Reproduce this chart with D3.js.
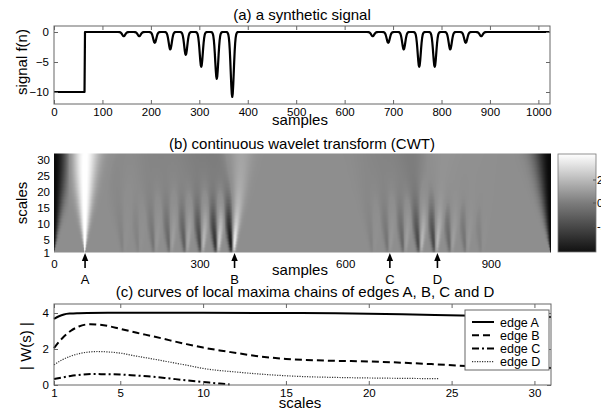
<!DOCTYPE html>
<html lang="en">
<head>
<meta charset="UTF-8">
<title>Synthetic signal, CWT and maxima chains</title>
<style>
  body { margin: 0; background: #fff; }
  svg { display: block; font-family: "Liberation Sans", Arial, sans-serif; }
</style>
</head>
<body>
<svg id="chart" width="601" height="418"></svg>
<script src="https://cdn.jsdelivr.net/npm/d3@7"></script>
<script>
// (a) synthetic signal: a step then two groups of gaussian dips
const nSamples = 1024;
const stepAt = 64;
const stepLevel = -10;
const dipWidth = 3.2; // std of a dip, in samples
const dipCenters = [144, 176, 208, 240, 272, 304, 336, 368, 658, 690, 722, 754, 786, 818, 850, 882];
const dipDepths = [0.7, 0.7, 1.8, 2.9, 3.8, 5.8, 7.8, 10.8, 0.7, 1.8, 2.9, 5.8, 5.8, 2.9, 1.8, 0.7];
const sampleTicks = [0, 100, 200, 300, 400, 500, 600, 700, 800, 900, 1000];
const signalTicks = [0, -5, -10];

// (b) CWT, edges marked under it
const maxScale = 32;
const waveletStd = 0.68; // samples per scale unit
const cwtXTicks = [0, 300, 600, 900];
const cwtYTicks = [1, 5, 10, 15, 20, 25, 30];
const colorTicks = [2, 0, -2];
const edgeNames = ["A", "B", "C", "D"];
const edgePos = [64, 372, 692, 790];

// (c) |W(s)| along the maxima chains
const scalesA = [1, 1.3, 1.6, 2, 2.5, 3, 5, 10, 15, 18, 22, 25.6, 28, 31];
const edgeA = [3.67, 3.82, 3.92, 3.97, 3.99, 4.0, 4.01, 4.01, 4.0, 3.98, 3.93, 3.86, 3.82, 3.78];
const scalesB = [1, 1.5, 2, 2.5, 3.2, 4, 5, 6, 7, 8, 9, 10, 11, 12, 13, 14, 15, 16, 18, 20, 22, 24, 26, 28, 31];
const edgeB = [2.05, 2.6, 3.0, 3.25, 3.38, 3.32, 3.12, 2.9, 2.7, 2.48, 2.27, 2.08, 1.92, 1.78, 1.64, 1.53, 1.45, 1.4, 1.34, 1.31, 1.24, 1.15, 1.05, 1.0, 0.95];
const scalesC = [1, 1.5, 2, 2.5, 3, 3.5, 4, 5, 6, 7, 8, 9, 10, 11, 11.6];
const edgeC = [0.33, 0.42, 0.5, 0.56, 0.6, 0.61, 0.6, 0.58, 0.52, 0.46, 0.36, 0.26, 0.17, 0.08, 0.03];
const scalesD = [1, 1.5, 2, 2.5, 3, 3.6, 4, 5, 6, 7, 8, 9, 10, 12, 14, 16, 18, 20, 22, 24.2];
const edgeD = [1.12, 1.4, 1.6, 1.74, 1.82, 1.86, 1.85, 1.77, 1.6, 1.44, 1.27, 1.1, 0.92, 0.72, 0.57, 0.47, 0.42, 0.39, 0.37, 0.35];
const scaleTicks = [1, 5, 10, 15, 20, 25, 30];
const wTicks = [0, 2, 4];

const svg = d3.select("#chart");
const boxColor = "#666";
const tickFont = 11.5;

function signalAt(n) {
    let v = n < stepAt ? stepLevel : 0;
    dipCenters.forEach((c, i) => {
        v -= dipDepths[i] * Math.exp(-(n - c) * (n - c) / (2 * dipWidth * dipWidth));
    });
    return v;
}

// wavelet transform (derivative of gaussian), periodic signal
function cwtAt(n, s) {
    const w = waveletStd * s;
    let v = 0;
    for (const k of [-1, 0, 1]) {
        const off = k * nSamples;
        const x1 = n - (stepAt - 0.5) - off;
        const x2 = n - (-0.5) - off;
        v += -stepLevel * Math.exp(-x1 * x1 / (2 * w * w)) / Math.sqrt(2 * Math.PI);
        v += stepLevel * Math.exp(-x2 * x2 / (2 * w * w)) / Math.sqrt(2 * Math.PI);
    }
    dipCenters.forEach((c, i) => {
        const x = n - c;
        const V = dipWidth * dipWidth + w * w;
        v += w * dipDepths[i] * dipWidth * x / Math.pow(V, 1.5) * Math.exp(-x * x / (2 * V));
    });
    return v;
}

function boxAxes(g, x, y, xt, yt) {
    const [x0, x1] = x.range();
    const [y1, y0] = y.range();
    g.append("g").attr("transform", `translate(0,${y1})`)
        .call(d3.axisBottom(x).tickValues(xt).tickFormat(d3.format("d"))
            .tickSizeInner(-4).tickSizeOuter(0).tickPadding(4));
    g.append("g").attr("transform", `translate(0,${y0})`)
        .call(d3.axisTop(x).tickValues(xt).tickSizeInner(-4).tickSizeOuter(0).tickFormat(""));
    g.append("g").attr("transform", `translate(${x0},0)`)
        .call(d3.axisLeft(y).tickValues(yt).tickFormat(d3.format("d"))
            .tickSizeInner(-4).tickSizeOuter(0).tickPadding(5));
    g.append("g").attr("transform", `translate(${x1},0)`)
        .call(d3.axisRight(y).tickValues(yt).tickSizeInner(-4).tickSizeOuter(0).tickFormat(""));
    g.selectAll(".domain").remove();
    g.selectAll(".tick line").attr("stroke", boxColor);
    g.selectAll(".tick text").attr("font-size", tickFont).attr("fill", "#000");
    g.append("rect").attr("x", x0).attr("y", y0).attr("width", x1 - x0).attr("height", y1 - y0)
        .attr("fill", "none").attr("stroke", boxColor).attr("stroke-width", 1);
}

function label(text, x, y, size, rotate) {
    const t = svg.append("text").attr("text-anchor", "middle").attr("font-size", size).text(text);
    if (rotate) t.attr("transform", `translate(${x},${y}) rotate(-90)`);
    else t.attr("x", x).attr("y", y);
    return t;
}

// ---- (a) signal
const xa = d3.scaleLinear().domain([0, nSamples]).range([54, 550]);
const ya = d3.scaleLinear().domain([-12, 1]).range([104, 26]);
const ga = svg.append("g");
ga.append("path")
    .datum(d3.range(nSamples).map(n => [n, signalAt(n)]))
    .attr("fill", "none").attr("stroke", "#000").attr("stroke-width", 2.2)
    .attr("stroke-linejoin", "round")
    .attr("d", d3.line().x(d => xa(d[0])).y(d => ya(d[1])));
boxAxes(ga, xa, ya, sampleTicks, signalTicks);
label("(a) a synthetic signal", 302, 20, 15);
label("samples", 300, 125, 15);
label("signal f(n)", 27, 62, 15, true);

// ---- (b) CWT image
const xb = d3.scaleLinear().domain([0, nSamples]).range([54, 551]);
const yb = d3.scaleLinear().domain([1, maxScale]).range([252.5, 153.5]);
const mid = "#8e8e8e";
const lightAmount = d3.scalePow().exponent(1.3).domain([0, 3.9]).range([0, 1]).clamp(true);
const darkAmount = d3.scalePow().exponent(0.85).domain([0, 3.9]).range([0, 1]).clamp(true);
const toWhite = d3.interpolateRgb(mid, "#fff");
const toBlack = d3.interpolateRgb(mid, "#0a0a0a");
const gray = v => v >= 0 ? toWhite(lightAmount(v)) : toBlack(darkAmount(-v));

const cw = Math.round(xb(nSamples) - xb(0));
const ch = Math.round(yb(1) - yb(maxScale));
const canvas = document.createElement("canvas");
canvas.width = cw;
canvas.height = ch;
const ctx = canvas.getContext("2d");
const img = ctx.createImageData(cw, ch);
for (let py = 0; py < ch; py++) {
    const s = Math.max(1, Math.min(maxScale, Math.round(yb.invert(yb(maxScale) + py + 0.5))));
    for (let px = 0; px < cw; px++) {
        const n = xb.invert(xb(0) + px + 0.5);
        const c = d3.rgb(gray(cwtAt(n, s)));
        const k = (py * cw + px) * 4;
        img.data[k] = c.r; img.data[k + 1] = c.g; img.data[k + 2] = c.b; img.data[k + 3] = 255;
    }
}
ctx.putImageData(img, 0, 0);
const gb = svg.append("g");
gb.append("image")
    .attr("href", canvas.toDataURL())
    .attr("x", xb(0)).attr("y", yb(maxScale))
    .attr("width", cw).attr("height", ch)
    .attr("preserveAspectRatio", "none");

gb.append("g").attr("transform", `translate(0,${yb(1)})`)
    .call(d3.axisBottom(xb).tickValues(cwtXTicks).tickSize(0).tickPadding(7));
gb.append("g").attr("transform", `translate(${xb(0)},0)`)
    .call(d3.axisLeft(yb).tickValues(cwtYTicks).tickSize(0).tickPadding(4));
gb.selectAll(".domain").remove();
gb.selectAll(".tick text").attr("font-size", tickFont).attr("fill", "#000");

// edge arrows
edgeNames.forEach((name, i) => {
    const x = xb(edgePos[i]);
    gb.append("line").attr("x1", x).attr("x2", x).attr("y1", 258).attr("y2", 268)
        .attr("stroke", "#000").attr("stroke-width", 1.6);
    gb.append("path").attr("d", `M${x},253L${x - 3.2},261L${x + 3.2},261Z`).attr("fill", "#000");
    gb.append("text").attr("x", x).attr("y", 284).attr("text-anchor", "middle")
        .attr("font-size", 13).text(name);
});

// colorbar
const ycb = d3.scaleLinear().domain([-4.26, 4.26]).range([252, 154]);
const cbarColor = d3.scaleLinear().domain([-4.26, 0, 4.26]).range(["#111", "#7c7c7c", "#fff"]);
const grad = svg.append("defs").append("linearGradient").attr("id", "cbar")
    .attr("x1", 0).attr("x2", 0).attr("y1", 1).attr("y2", 0);
d3.range(0, 1.0001, 0.1).forEach(t => {
    grad.append("stop").attr("offset", t).attr("stop-color", cbarColor(-4.26 + t * 8.52));
});
gb.append("rect").attr("x", 558).attr("y", 154).attr("width", 38).attr("height", 98)
    .attr("fill", "url(#cbar)").attr("stroke", "#777").attr("stroke-width", 0.8);
colorTicks.forEach(v => {
    gb.append("line").attr("x1", 593).attr("x2", 596).attr("y1", ycb(v)).attr("y2", ycb(v))
        .attr("stroke", "#555");
    gb.append("text").attr("x", 597).attr("y", ycb(v) + 4).attr("font-size", 11).text(v);
});

label("(b) continuous wavelet transform (CWT)", 302, 149, 15);
label("samples", 300, 275, 15);
label("scales", 27, 203, 15, true);

// ---- (c) maxima chains
const xc = d3.scaleLinear().domain([1, 31]).range([54, 551]);
const yc = d3.scaleLinear().domain([0, 4.5]).range([385, 304]);
const gc = svg.append("g");
const series = [
    { name: "edge A", s: scalesA, v: edgeA, dash: null, width: 2, color: "#000" },
    { name: "edge B", s: scalesB, v: edgeB, dash: "7,4", width: 2, color: "#000" },
    { name: "edge C", s: scalesC, v: edgeC, dash: "7,3,2,3", width: 2, color: "#000" },
    { name: "edge D", s: scalesD, v: edgeD, dash: "1.2,1.3", width: 1.2, color: "#333" }
];
const curve = d3.line().x(d => xc(d[0])).y(d => yc(d[1])).curve(d3.curveMonotoneX);
series.forEach(sr => {
    gc.append("path")
        .datum(sr.s.map((s, i) => [s, sr.v[i]]))
        .attr("fill", "none").attr("stroke", sr.color).attr("stroke-width", sr.width)
        .attr("stroke-dasharray", sr.dash)
        .attr("d", curve);
});
boxAxes(gc, xc, yc, scaleTicks, wTicks);

// legend
const lg = gc.append("g");
lg.append("rect").attr("x", 465).attr("y", 310).attr("width", 84).attr("height", 60)
    .attr("fill", "#fff").attr("stroke", boxColor).attr("stroke-width", 1);
series.forEach((sr, i) => {
    const y = 322 + i * 13.2;
    lg.append("line").attr("x1", 472).attr("x2", 494).attr("y1", y).attr("y2", y)
        .attr("stroke", sr.color).attr("stroke-width", sr.width).attr("stroke-dasharray", sr.dash);
    lg.append("text").attr("x", 500).attr("y", y + 4.5).attr("font-size", 12.5).text(sr.name);
});

label("(c) curves of local maxima chains of edges A, B, C and D", 305, 297, 15);
label("scales", 300, 408, 15);
label("| W(s) |", 31, 346, 15, true);
</script>
</body>
</html>
